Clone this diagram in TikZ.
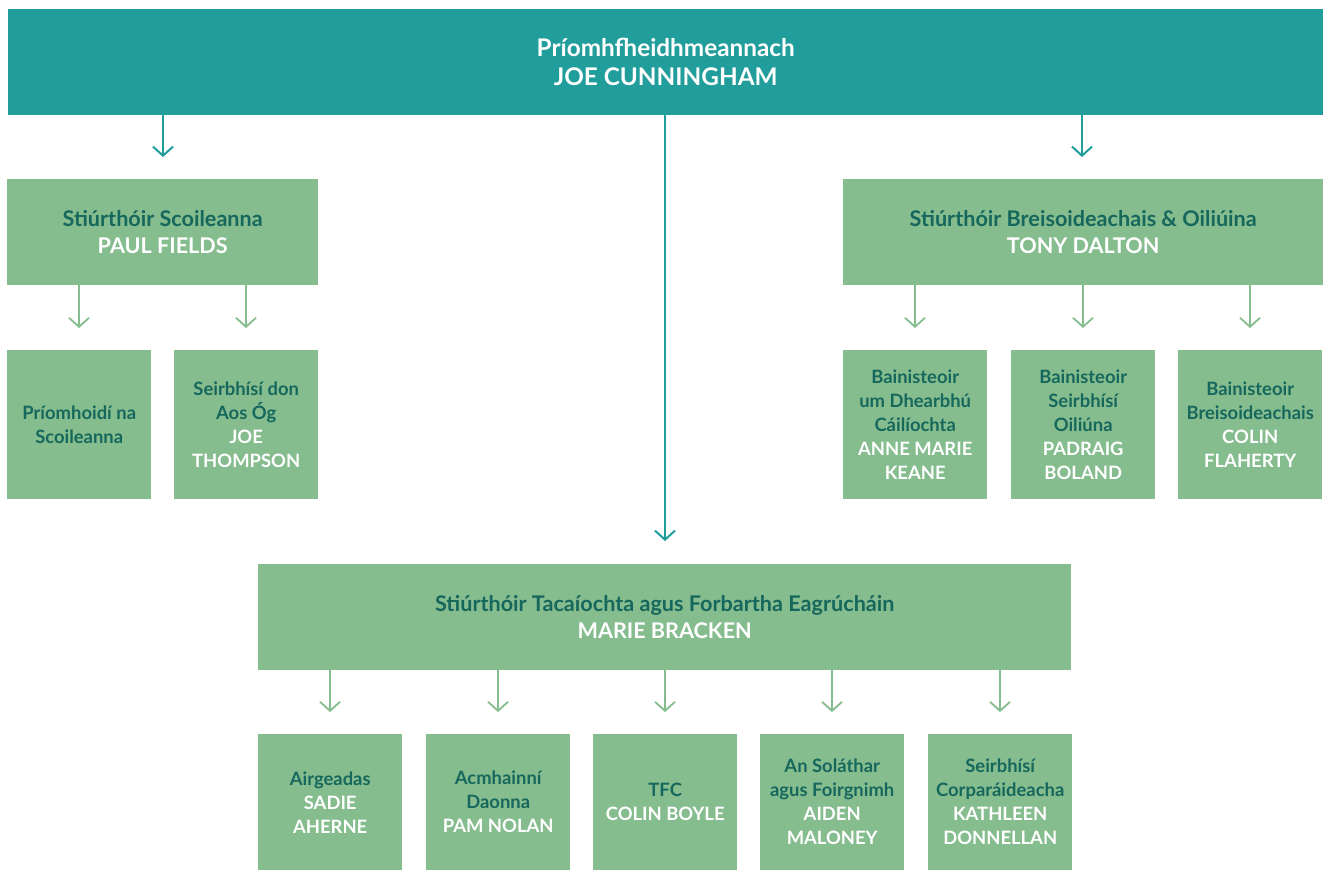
\documentclass[tikz,border=0pt]{standalone}
\usepackage{fontspec}
\setmainfont{Lato}
\usetikzlibrary{arrows.meta}
\definecolor{teal1}{HTML}{219E9B}
\definecolor{green1}{HTML}{86BD8F}
\definecolor{dark1}{HTML}{16675C}
\begin{document}
\begin{tikzpicture}[x=1pt,y=-1pt,
  topbox/.style={fill=teal1, draw=none, anchor=north west, inner sep=0pt, align=center, text=white, font=\bfseries\fontsize{24.3}{29}\selectfont},
  midbox/.style={fill=green1, draw=none, anchor=north west, inner sep=0pt, align=center, text=dark1, font=\bfseries\fontsize{21.6}{27}\selectfont},
  smallbox/.style={fill=green1, draw=none, anchor=north west, inner sep=0pt, align=center, text=dark1, font=\bfseries\fontsize{18.4}{24}\selectfont},
  garr/.style={draw=green1, line width=1.8pt, -{Straight Barb[length=9pt,width=20pt,line width=1.8pt]}},
  tarr/.style={draw=teal1, line width=2pt, -{Straight Barb[length=9pt,width=20pt,line width=2pt]}}
]
\useasboundingbox[fill=white] (0,0) rectangle (1324,871);

\node[topbox, minimum width=1315pt, minimum height=106pt] (top) at (8,9) {Príomhfheidhmeannach\\JOE CUNNINGHAM};

\node[midbox, minimum width=311pt, minimum height=106pt] (sc) at (7,179) {Stiúrthóir Scoileanna\\\textcolor{white}{PAUL FIELDS}};
\node[midbox, minimum width=480pt, minimum height=106pt] (br) at (843,179) {Stiúrthóir Breisoideachais \& Oiliúina\\\textcolor{white}{TONY DALTON}};
\node[midbox, minimum width=813pt, minimum height=106pt] (tf) at (258,564) {Stiúrthóir Tacaíochta agus Forbartha Eagrúcháin\\\textcolor{white}{MARIE BRACKEN}};

\node[smallbox, minimum width=144pt, minimum height=149pt] (s1) at (7,350) {Príomhoidí na\\Scoileanna};
\node[smallbox, minimum width=144pt, minimum height=149pt] (s2) at (174,350) {Seirbhísí don\\Aos Óg\\\textcolor{white}{JOE}\\\textcolor{white}{THOMPSON}};

\node[smallbox, minimum width=144pt, minimum height=149pt] (b1) at (843,350) {Bainisteoir\\um Dhearbhú\\Cáilíochta\\\textcolor{white}{ANNE MARIE}\\\textcolor{white}{KEANE}};
\node[smallbox, minimum width=144pt, minimum height=149pt] (b2) at (1011,350) {Bainisteoir\\Seirbhísí\\Oiliúna\\\textcolor{white}{PADRAIG}\\\textcolor{white}{BOLAND}};
\node[smallbox, minimum width=144pt, minimum height=149pt] (b3) at (1178,350) {Bainisteoir\\Breisoideachais\\\textcolor{white}{COLIN}\\\textcolor{white}{FLAHERTY}};

\node[smallbox, minimum width=144pt, minimum height=136pt] (t1) at (258,734) {Airgeadas\\\textcolor{white}{SADIE}\\\textcolor{white}{AHERNE}};
\node[smallbox, minimum width=144pt, minimum height=136pt] (t2) at (426,734) {Acmhainní\\Daonna\\\textcolor{white}{PAM NOLAN}};
\node[smallbox, minimum width=144pt, minimum height=136pt] (t3) at (593,734) {TFC\\\textcolor{white}{COLIN BOYLE}};
\node[smallbox, minimum width=144pt, minimum height=136pt] (t4) at (760,734) {An Soláthar\\agus Foirgnimh\\\textcolor{white}{AIDEN}\\\textcolor{white}{MALONEY}};
\node[smallbox, minimum width=144pt, minimum height=136pt] (t5) at (928,734) {Seirbhísí\\Corparáideacha\\\textcolor{white}{KATHLEEN}\\\textcolor{white}{DONNELLAN}};

% arrow end points
\coordinate (e1) at (163,157);
\coordinate (e2) at (1082,157);
\coordinate (e3) at (665,541);
\coordinate (f1) at (79,328);
\coordinate (f2) at (246,328);
\coordinate (g1) at (915,328);
\coordinate (g2) at (1083,328);
\coordinate (g3) at (1250,328);
\coordinate (h1) at (330,712);
\coordinate (h2) at (498,712);
\coordinate (h3) at (665,712);
\coordinate (h4) at (832,712);
\coordinate (h5) at (1000,712);

\draw[tarr] (top.south -| e1) -- (e1);
\draw[tarr] (top.south -| e2) -- (e2);
\draw[tarr] (top.south -| e3) -- (e3);
\draw[garr] (sc.south -| f1) -- (f1);
\draw[garr] (sc.south -| f2) -- (f2);
\draw[garr] (br.south -| g1) -- (g1);
\draw[garr] (br.south -| g2) -- (g2);
\draw[garr] (br.south -| g3) -- (g3);
\foreach \i in {1,...,5} { \draw[garr] (tf.south -| h\i) -- (h\i); }
\end{tikzpicture}
\end{document}
